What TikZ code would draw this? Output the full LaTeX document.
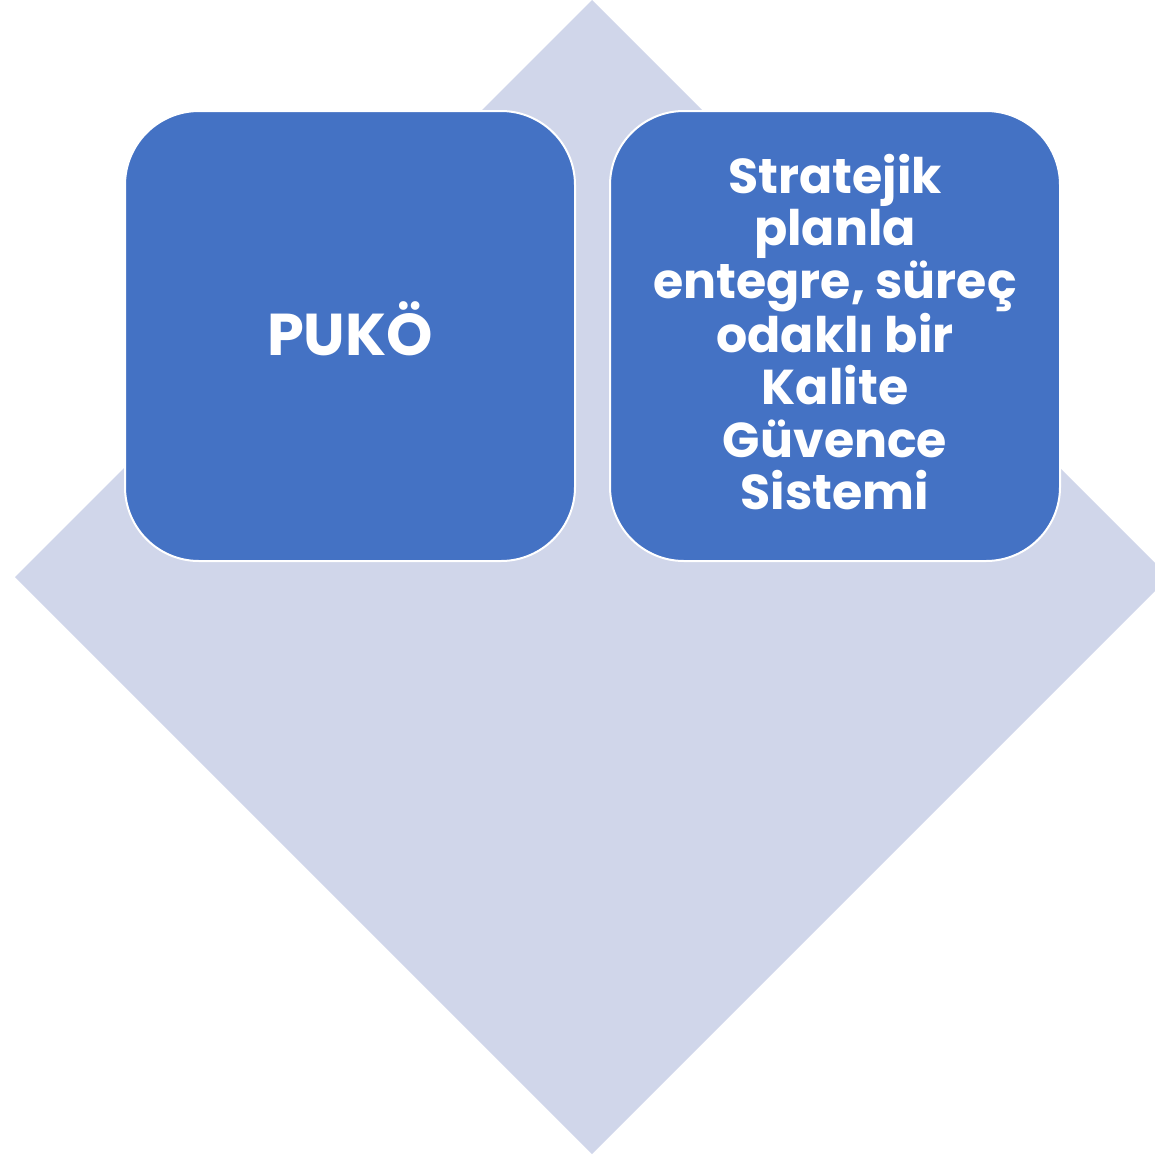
\documentclass[tikz,border=0pt]{standalone}
\usepackage{fontspec}
\setmainfont{Poppins}[BoldFont={* Bold}]
\definecolor{lav}{HTML}{D0D6EA}
\definecolor{boxblue}{HTML}{4472C4}
\tikzset{
  card/.style={draw=white, line width=2pt, fill=boxblue, rounded corners=74pt,
    minimum width=450pt, minimum height=450pt, inner sep=0pt},
  cardtext/.style={text=white, font=\bfseries\fontsize{49}{52.5}\selectfont, align=center}
}
\begin{document}
\begin{tikzpicture}[x=1pt,y=-1pt]
\useasboundingbox (0,0) rectangle (1155,1154);
\begin{scope}
\clip (0,0) rectangle (1155,1154);
\fill[lav] (592,0) -- (1169,577) -- (592,1154) -- (15,577) -- cycle;
\end{scope}
\node[card] (a) at (350,336) {};
\node[card] (b) at (835,336) {};
\node[cardtext, font=\bfseries\fontsize{59}{63}\selectfont] (ta) at (350,329) {PUKÖ};
\node[cardtext] (tb) at (835,332) {Stratejik\\planla\\entegre, süreç\\odaklı bir\\Kalite\\Güvence\\Sistemi};
\end{tikzpicture}
\end{document}
